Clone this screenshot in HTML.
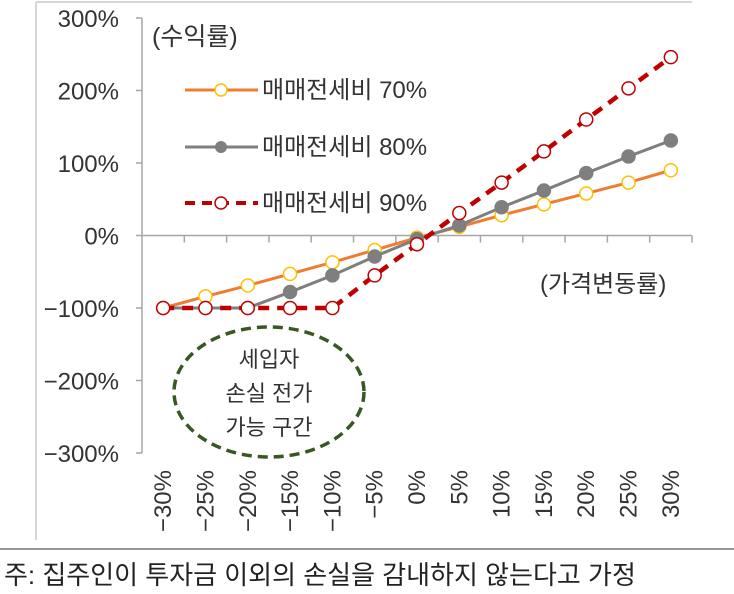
<!DOCTYPE html>
<html><head><meta charset="utf-8"><style>
body{margin:0;background:#fff;}
svg{display:block;font-family:"Liberation Sans","Noto Sans CJK KR",sans-serif;}
</style></head><body>
<svg width="734" height="594" viewBox="0 0 734 594">
<line x1="36" y1="2" x2="692" y2="2" stroke="#c8c8c8" stroke-width="1.5"/>
<line x1="36" y1="2" x2="36" y2="540" stroke="#c8c8c8" stroke-width="1.5"/>
<line x1="0" y1="549" x2="734" y2="549" stroke="#777" stroke-width="1.5"/>
<text x="4" y="584" font-size="26" fill="#222">주: 집주인이 투자금 이외의 손실을 감내하지 않는다고 가정</text>
<g id="axes"></g>
<g id="series"></g>
<text x="152" y="45" font-size="25" fill="#333">(수익률)</text>
<text x="540" y="292" font-size="24" fill="#333">(가격변동률)</text>
<g>
<g>
<line x1="185" y1="90" x2="258" y2="90" stroke="#ed7d31" stroke-width="3"/>
<circle cx="221" cy="90" r="6" fill="#fff" stroke="#ffc000" stroke-width="1.5"/>
<text x="262" y="98" font-size="24" fill="#333">매매전세비 70%</text></g>
<g>
<line x1="185" y1="147" x2="258" y2="147" stroke="#7f7f7f" stroke-width="3"/>
<circle cx="221" cy="147" r="6" fill="#7f7f7f"/>
<text x="262" y="155" font-size="24" fill="#333">매매전세비 80%</text></g>
<g>
<line x1="185" y1="203" x2="258" y2="203" stroke="#c00000" stroke-width="4" stroke-dasharray="10,7"/>
<circle cx="221" cy="203" r="6" fill="#fff" stroke="#c00000" stroke-width="1.5"/>
<text x="262" y="211" font-size="24" fill="#333">매매전세비 90%</text></g>
</g>
<g>
<ellipse cx="269" cy="392" rx="95" ry="65" fill="none" stroke="#385723" stroke-width="3.5" stroke-dasharray="10,6"/>
<text x="269" y="367" font-size="22" fill="#333" text-anchor="middle">세입자</text>
<text x="269" y="401" font-size="22" fill="#333" text-anchor="middle">손실 전가</text>
<text x="269" y="435" font-size="22" fill="#333" text-anchor="middle">가능 구간</text>
</g>
</svg>
<script>
const categories=["-30%","-25%","-20%","-15%","-10%","-5%","0%","5%","10%","15%","20%","25%","30%"];
const yTicks=[300,200,100,0,-100,-200,-300];
const yTickLabels=["300%","200%","100%","0%","\u2212100%","\u2212200%","\u2212300%"];
const s70=[-100,-84,-69,-53,-37,-20,-3,12,28,43,58,73,90];
const s80=[-100,-100,-100,-78,-55,-29,-5,14,39,62,86,109,131];
const s90=[-100,-100,-100,-100,-100,-55,-12,31,73,116,160,203,246];
const NS="http://www.w3.org/2000/svg";
const x0=142,x1=692,yTop=18,yBot=453;
const bw=(x1-x0)/categories.length;
function xs(i){return x0+bw*(i+0.5);}
function ys(v){return yTop+(300-v)/600*(yBot-yTop);}
function mk(t,a,p){const e=document.createElementNS(NS,t);for(const k in a)e.setAttribute(k,a[k]);p.appendChild(e);return e;}
const ax=document.getElementById('axes');
let l=mk('line',{x1:x0,y1:yTop,x2:x0,y2:yBot,stroke:'#a6a6a6','stroke-width':1.5},ax);


yTicks.forEach((v,i)=>{
 const t=mk('line',{x1:x0-6,y1:ys(v),x2:x0,y2:ys(v),stroke:'#a6a6a6','stroke-width':1.5},ax);
 
 
 const tx=mk('text',{x:119,y:ys(v)+9,'font-size':24,fill:'#333','text-anchor':'end'},ax);
 tx.textContent=yTickLabels[i];
 
 
});
l=mk('line',{x1:x0,y1:ys(0),x2:x1,y2:ys(0),stroke:'#a6a6a6','stroke-width':1.5},ax);


categories.forEach((c,i)=>{
 const tx=x0+bw*(i+1);
 const t=mk('line',{x1:tx,y1:ys(0),x2:tx,y2:ys(0)+7,stroke:'#a6a6a6','stroke-width':1.5},ax);
 
 
 const lb=mk('text',{x:0,y:0,'font-size':24,fill:'#333','text-anchor':'end',transform:`translate(${xs(i)+8},470) rotate(-90)`},ax);
 lb.textContent=c.replace('-','\u2212');
 
 
});
const sg=document.getElementById('series');
function draw(data,name,stroke,w,dash,mfill,mstroke){
 const g=mk('g',{},sg);
 
 
 const p=mk('polyline',{points:data.map((v,i)=>xs(i)+','+ys(v)).join(' '),fill:'none',stroke:stroke,'stroke-width':w,'stroke-dasharray':dash},g);
 
 
 data.forEach((v,i)=>{
  const c=mk('circle',{cx:xs(i),cy:ys(v),r:6.5,fill:mfill,stroke:mstroke,'stroke-width':1.5},g);
  
  
 });
}
draw(s70,'series-70','#ed7d31',3,'none','#fff','#ffc000');
draw(s80,'series-80','#7f7f7f',3,'none','#7f7f7f','#7f7f7f');
draw(s90,'series-90','#c00000',4.5,'11,8','#fff','#c00000');
</script>
</body></html>
